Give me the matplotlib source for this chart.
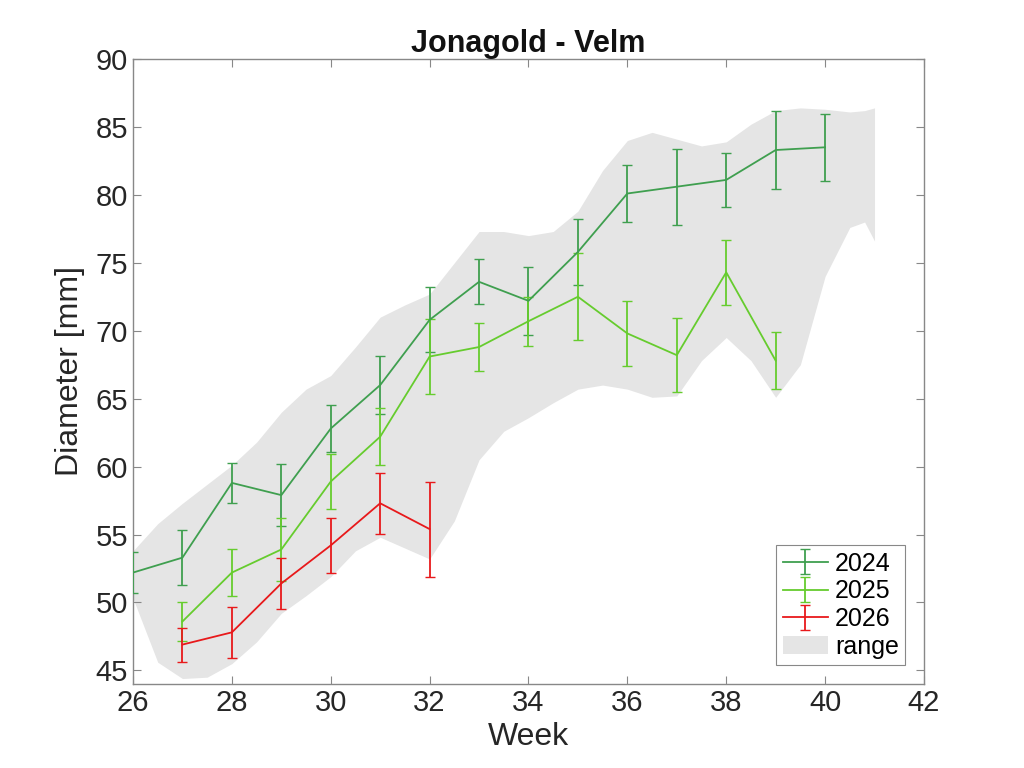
import matplotlib
matplotlib.use("Agg")
import matplotlib.pyplot as plt

# ---- data ----
weeks_2024 = [26, 27, 28, 29, 30, 31, 32, 33, 34, 35, 36, 37, 38, 39, 40]
diam_2024 = [52.2, 53.3, 58.8, 57.9, 62.8, 66.0, 70.8, 73.6, 72.2, 75.8, 80.1, 80.6, 81.1, 83.3, 83.5]
err_2024 = [1.5, 2.0, 1.5, 2.3, 1.75, 2.15, 2.4, 1.65, 2.5, 2.4, 2.1, 2.8, 2.0, 2.9, 2.45]

weeks_2025 = [27, 28, 29, 30, 31, 32, 33, 34, 35, 36, 37, 38, 39]
diam_2025 = [48.6, 52.2, 53.9, 58.9, 62.2, 68.1, 68.8, 70.7, 72.5, 69.8, 68.2, 74.3, 67.8]
err_2025 = [1.45, 1.75, 2.3, 2.05, 2.1, 2.75, 1.75, 1.8, 3.2, 2.4, 2.7, 2.4, 2.1]

weeks_2026 = [27, 28, 29, 30, 31, 32]
diam_2026 = [46.9, 47.8, 51.4, 54.2, 57.3, 55.4]
err_2026 = [1.25, 1.9, 1.9, 2.05, 2.25, 3.5]

# historical range envelope
range_weeks = [26.0, 26.5, 27.0, 27.5, 28.0, 28.5, 29.0, 29.5, 30.0, 30.5, 31.0, 31.5,
               32.0, 32.5, 33.0, 33.5, 34.0, 34.5, 35.0, 35.5, 36.0, 36.5, 37.0, 37.5,
               38.0, 38.5, 39.0, 39.5, 40.0, 40.5, 40.8, 41.0]
range_upper = [53.8, 55.8, 57.3, 58.7, 60.1, 61.8, 64.0, 65.7, 66.7, 68.8, 71.0, 71.9,
               72.7, 75.0, 77.3, 77.3, 77.0, 77.3, 78.8, 81.8, 84.0, 84.6, 84.1, 83.6,
               83.9, 85.2, 86.2, 86.4, 86.3, 86.1, 86.2, 86.4]
range_lower = [50.3, 45.6, 44.4, 44.5, 45.5, 47.1, 49.2, 50.5, 51.9, 53.8, 54.8, 54.0,
               53.2, 56.0, 60.5, 62.6, 63.6, 64.7, 65.7, 66.0, 65.7, 65.1, 65.2, 67.8,
               69.5, 67.8, 65.1, 67.5, 74.0, 77.6, 78.0, 76.6]

plt.rcParams["font.family"] = ["Liberation Sans", "DejaVu Sans"]

fig = plt.figure(figsize=(10.24, 7.68), dpi=100)
ax = fig.add_axes([0.1299, 0.1094, 0.7724, 0.8138])

rng = ax.fill_between(range_weeks, range_lower, range_upper, color="#e5e5e5",
                      linewidth=0, label="range", zorder=1)

h24 = ax.errorbar(weeks_2024, diam_2024, yerr=err_2024, color="#3f9f4f", lw=1.3,
                  capsize=3.5, elinewidth=1.3, label="2024", zorder=3)
h25 = ax.errorbar(weeks_2025, diam_2025, yerr=err_2025, color="#66cc2e", lw=1.3,
                  capsize=3.5, elinewidth=1.3, label="2025", zorder=3)
h26 = ax.errorbar(weeks_2026, diam_2026, yerr=err_2026, color="#e8191b", lw=1.3,
                  capsize=3.5, elinewidth=1.3, label="2026", zorder=3)

ax.set_xlim(26, 42)
ax.set_ylim(44, 90)
ax.set_xticks(range(26, 43, 2))
ax.set_yticks(range(45, 91, 5))

ax.tick_params(direction="in", top=True, right=True, length=6, width=0.8,
               colors="#888888", labelcolor="#262626", labelsize=21)
for s in ax.spines.values():
    s.set_color("#888888")
    s.set_linewidth(1.0)

ax.set_xlabel("Week", fontsize=23, color="#262626", labelpad=4)
ax.set_ylabel("Diameter [mm]", fontsize=23, color="#262626", labelpad=8)
ax.set_title("Jonagold - Velm", fontsize=22, fontweight="bold", color="#111111", pad=5)

leg = ax.legend([h24, h25, h26, rng], ["2024", "2025", "2026", "range"],
                loc="lower right", fontsize=18, fancybox=False, framealpha=1,
                edgecolor="#888888", handlelength=1.8, handletextpad=0.3,
                borderpad=0.25, labelspacing=0.15, borderaxespad=0.75)
leg.get_frame().set_linewidth(0.8)

fig.savefig("out.png", dpi=100)
